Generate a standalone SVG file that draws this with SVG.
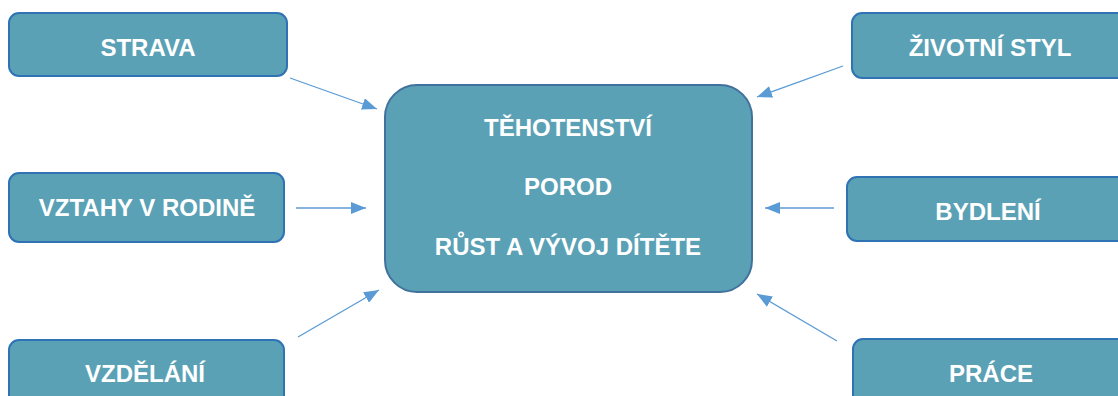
<svg xmlns="http://www.w3.org/2000/svg" width="1118" height="396" viewBox="0 0 1118 396">
<style>
.box{fill:#5AA1B6;stroke:#2F73B5;stroke-width:2}
.main{fill:#5AA1B6;stroke:#41719C;stroke-width:2}
.t{font-family:"Liberation Sans",Arial,sans-serif;font-weight:bold;font-size:24px;fill:#ffffff;text-anchor:middle}
.c{stroke:#5B9BD5;stroke-width:1.3;fill:none;marker-end:url(#ah)}
</style>
<defs>
<marker id="ah" markerUnits="userSpaceOnUse" markerWidth="16" markerHeight="12" refX="15" refY="6" orient="auto">
<path d="M0,0 L15,6 L0,12 Z" fill="#5B9BD5"/>
</marker>
</defs>
<g id="connectors">
<line class="c" x1="290" y1="78" x2="377" y2="109"/>
<line class="c" x1="843" y1="66" x2="757" y2="97"/>
<line class="c" x1="296" y1="208" x2="366" y2="208"/>
<line class="c" x1="834" y1="208" x2="765" y2="208"/>
<line class="c" x1="298" y1="337" x2="379" y2="290"/>
<line class="c" x1="837" y1="341" x2="757" y2="294"/>
</g>
<g id="center">
<rect class="main" x="385" y="85" width="367" height="207" rx="32"/>
<text class="t" x="568" y="136">TĚHOTENSTVÍ</text>
<text class="t" x="568" y="195">POROD</text>
<text class="t" x="568" y="255">RŮST A VÝVOJ DÍTĚTE</text>
</g>
<g id="strava">
<rect class="box" x="9" y="13" width="278" height="63" rx="10"/>
<text class="t" x="148" y="56">STRAVA</text>
</g>
<g id="zivotni-styl">
<rect class="box" x="852" y="13" width="280" height="65" rx="10"/>
<text class="t" x="990" y="56">ŽIVOTNÍ STYL</text>
</g>
<g id="vztahy">
<rect class="box" x="9" y="173" width="275" height="69" rx="10"/>
<text class="t" x="147" y="216">VZTAHY V RODINĚ</text>
</g>
<g id="bydleni">
<rect class="box" x="847" y="177" width="285" height="64" rx="10"/>
<text class="t" x="988" y="220">BYDLENÍ</text>
</g>
<g id="vzdelani">
<rect class="box" x="9" y="340" width="275" height="70" rx="10"/>
<text class="t" x="145" y="382">VZDĚLÁNÍ</text>
</g>
<g id="prace">
<rect class="box" x="853" y="339" width="280" height="70" rx="10"/>
<text class="t" x="991" y="382">PRÁCE</text>
</g>
</svg>
